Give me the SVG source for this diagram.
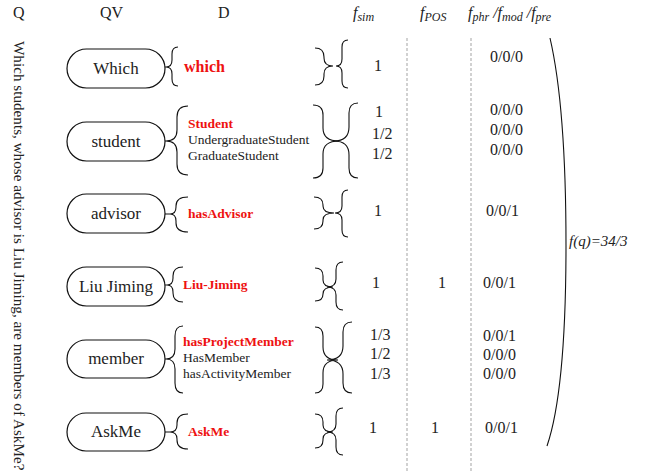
<svg xmlns="http://www.w3.org/2000/svg" width="649" height="473" viewBox="0 0 649 473">
  <style>
    text { font-family: "Liberation Serif", "Times New Roman", serif; fill: #222; }
    .hd { font-size: 16px; }
    .it { font-style: italic; }
    .sub { font-size: 12px; font-style: italic; }
    .node rect { fill: #fff; stroke: #111; stroke-width: 1.2; }
    .node text { font-size: 17px; text-anchor: middle; }
    .d { font-size: 13.5px; }
    .hit { font-weight: bold; fill: #ee1111; }
    .num { font-size: 16px; }
    .brace { fill: none; stroke: #111; stroke-width: 1.1; }
    .sep { fill: none; stroke: #999; stroke-width: 0.9; stroke-dasharray: 3 2; }
  </style>
  <rect width="649" height="473" fill="#fff"/>

  <!-- column headers -->
  <g id="headers">
    <text class="hd" x="13" y="18">Q</text>
    <text class="hd" x="100" y="18">QV</text>
    <text class="hd" x="218" y="18">D</text>
    <text class="hd it" x="353" y="18">f<tspan class="sub" dy="3">sim</tspan></text>
    <text class="hd it" x="420" y="18">f<tspan class="sub" dy="3">POS</tspan></text>
    <text class="hd it" x="468" y="18">f<tspan class="sub" dy="3">phr</tspan><tspan dy="-3"> /f</tspan><tspan class="sub" dy="3">mod</tspan><tspan dy="-3"> /f</tspan><tspan class="sub" dy="3">pre</tspan></text>
  </g>

  <!-- the question, written down the left edge -->
  <g id="question">
    <text transform="translate(14,41) rotate(90)" font-size="15.2">Which students, whose advisor is Liu Jiming, are members of AskMe?</text>
  </g>

  <!-- query-vocabulary nodes -->
  <g id="qv-which" class="node">
    <rect x="67" y="49" width="98" height="39" rx="19.5"/>
    <text x="116" y="74">Which</text>
  </g>
  <g id="qv-student" class="node">
    <rect x="67" y="122" width="98" height="39" rx="19.5"/>
    <text x="116" y="147">student</text>
  </g>
  <g id="qv-advisor" class="node">
    <rect x="67" y="194" width="98" height="39" rx="19.5"/>
    <text x="116" y="219">advisor</text>
  </g>
  <g id="qv-liu" class="node">
    <rect x="67" y="267" width="98" height="39" rx="19.5"/>
    <text x="116" y="292">Liu Jiming</text>
  </g>
  <g id="qv-member" class="node">
    <rect x="67" y="340" width="98" height="38" rx="19"/>
    <text x="116" y="364">member</text>
  </g>
  <g id="qv-askme" class="node">
    <rect x="67" y="413" width="98" height="38" rx="19"/>
    <text x="116" y="437">AskMe</text>
  </g>

  <!-- braces and short links between the columns -->
  <g id="connectors">
    <path class="brace" d="M165,67 H166 M165,141 H166 M165,214 H170 M165,285 H167 M165,359 H166 M165,432 H170"/>
    <!-- braces in front of the candidate lists -->
    <path class="brace" d="M178,47 Q172,47 172,54 L172,60 Q172,67 166,67 Q172,67 172,74 L172,79 Q172,86 178,86"/>
    <path class="brace" d="M188,106 Q177,106 177,117 L177,130 Q177,141 166,141 Q177,141 177,152 L177,164 Q177,175 188,175"/>
    <path class="brace" d="M188,197 Q176,197 176,206 L176,207 Q176,214 170,214 Q176,214 176,221 L176,223 Q176,232 188,232"/>
    <path class="brace" d="M183,267 Q173,267 173,276 L173,278 Q173,285 167,285 Q173,285 173,292 L173,293 Q173,302 183,302"/>
    <path class="brace" d="M183,326 Q175,326 175,336 L175,349 Q175,359 166,359 Q175,359 175,369 L175,383 Q175,393 183,393"/>
    <path class="brace" d="M188,414 Q177,414 177,423 L177,425 Q177,432 170,432 Q177,432 177,439 L177,440 Q177,449 188,449"/>
    <!-- paired braces before the scores -->
    <path class="brace" d="M315,48 Q324,48 324,57 L324,58 Q324,66 333,66 Q324,66 324,74 L324,76 Q324,85 315,85"/>
    <path class="brace" d="M348,40 Q342,40 342,47 L342,59 Q342,66 336,66 Q342,66 342,73 L342,81 Q342,88 348,88"/>
    <path class="brace" d="M313,105 Q323,105 323,115 L323,128 Q323,141 339,141 Q323,141 323,154 L323,168 Q323,178 313,178"/>
    <path class="brace" d="M358,103 Q349,103 349,113 L349,127 Q349,141 334,141 Q349,141 349,155 L349,168 Q349,178 358,178"/>
    <path class="brace" d="M314,197 Q323,197 323,205 L323,206 Q323,213 334,213 Q323,213 323,220 L323,221 Q323,229 314,229"/>
    <path class="brace" d="M348,190 Q342,190 342,197 L342,206 Q342,213 335,213 Q342,213 342,220 L342,230 Q342,237 348,237"/>
    <path class="brace" d="M315,268 Q323,268 323,276 L323,280 Q323,287 333,287 Q323,287 323,294 Q323,301 315,301"/>
    <path class="brace" d="M343,262 Q336,262 336,270 L336,279 Q336,287 327,287 Q336,287 336,295 L336,302 Q336,310 343,310"/>
    <path class="brace" d="M315,327 Q323,327 323,336 L323,347 Q323,360 338,360 Q323,360 323,373 L323,384 Q323,393 315,393"/>
    <path class="brace" d="M352,322 Q343,322 343,332 L343,346 Q343,360 327,360 Q343,360 343,374 L343,383 Q343,393 352,393"/>
    <path class="brace" d="M315,414 Q323,414 323,422 L323,425 Q323,432 333,432 Q323,432 323,439 L323,440 Q323,448 315,448"/>
    <path class="brace" d="M343,408 Q336,408 336,416 L336,424 Q336,432 327,432 Q336,432 336,440 L336,447 Q336,455 343,455"/>
    <!-- large closing bracket over all rows -->
    <path class="brace" stroke-width="1.3" d="M550,38 C562,90 566,170 566,245 C566,330 561,405 547,446"/>
  </g>

  <!-- column separators -->
  <g id="separators">
    <path class="sep" d="M407,38 V472 M471,38 V472"/>
  </g>

  <!-- candidate lists -->
  <g id="candidates">
    <text class="hit" x="184" y="72" font-size="16">which</text>
    <text class="d hit" x="188" y="128">Student</text>
    <text class="d" x="188" y="144">UndergraduateStudent</text>
    <text class="d" x="188" y="160">GraduateStudent</text>
    <text class="d hit" x="188" y="218">hasAdvisor</text>
    <text class="d hit" x="183" y="289">Liu-Jiming</text>
    <text class="d hit" x="183" y="346">hasProjectMember</text>
    <text class="d" x="183" y="362">HasMember</text>
    <text class="d" x="183" y="378">hasActivityMember</text>
    <text class="d hit" x="188" y="436">AskMe</text>
  </g>

  <!-- similarity scores -->
  <g id="fsim" class="num">
    <text class="num" x="374" y="71">1</text>
    <text class="num" x="375" y="117">1</text>
    <text class="num" x="372" y="139">1/2</text>
    <text class="num" x="372" y="159">1/2</text>
    <text class="num" x="374" y="216">1</text>
    <text class="num" x="372" y="288">1</text>
    <text class="num" x="370" y="340">1/3</text>
    <text class="num" x="370" y="359">1/2</text>
    <text class="num" x="370" y="379">1/3</text>
    <text class="num" x="369" y="433">1</text>
  </g>

  <!-- part-of-speech scores -->
  <g id="fpos">
    <text class="num" x="438" y="288">1</text>
    <text class="num" x="431" y="433">1</text>
  </g>

  <!-- phrase / modifier / predicate scores -->
  <g id="fphr">
    <text class="num" x="490" y="62">0/0/0</text>
    <text class="num" x="490" y="115">0/0/0</text>
    <text class="num" x="490" y="135">0/0/0</text>
    <text class="num" x="490" y="155">0/0/0</text>
    <text class="num" x="486" y="216">0/0/1</text>
    <text class="num" x="483" y="288">0/0/1</text>
    <text class="num" x="483" y="341">0/0/1</text>
    <text class="num" x="483" y="360">0/0/0</text>
    <text class="num" x="483" y="379">0/0/0</text>
    <text class="num" x="485" y="433">0/0/1</text>
  </g>

  <!-- total -->
  <g id="total">
    <text class="it" x="569" y="246" font-size="15">f(q)=34/3</text>
  </g>
</svg>
